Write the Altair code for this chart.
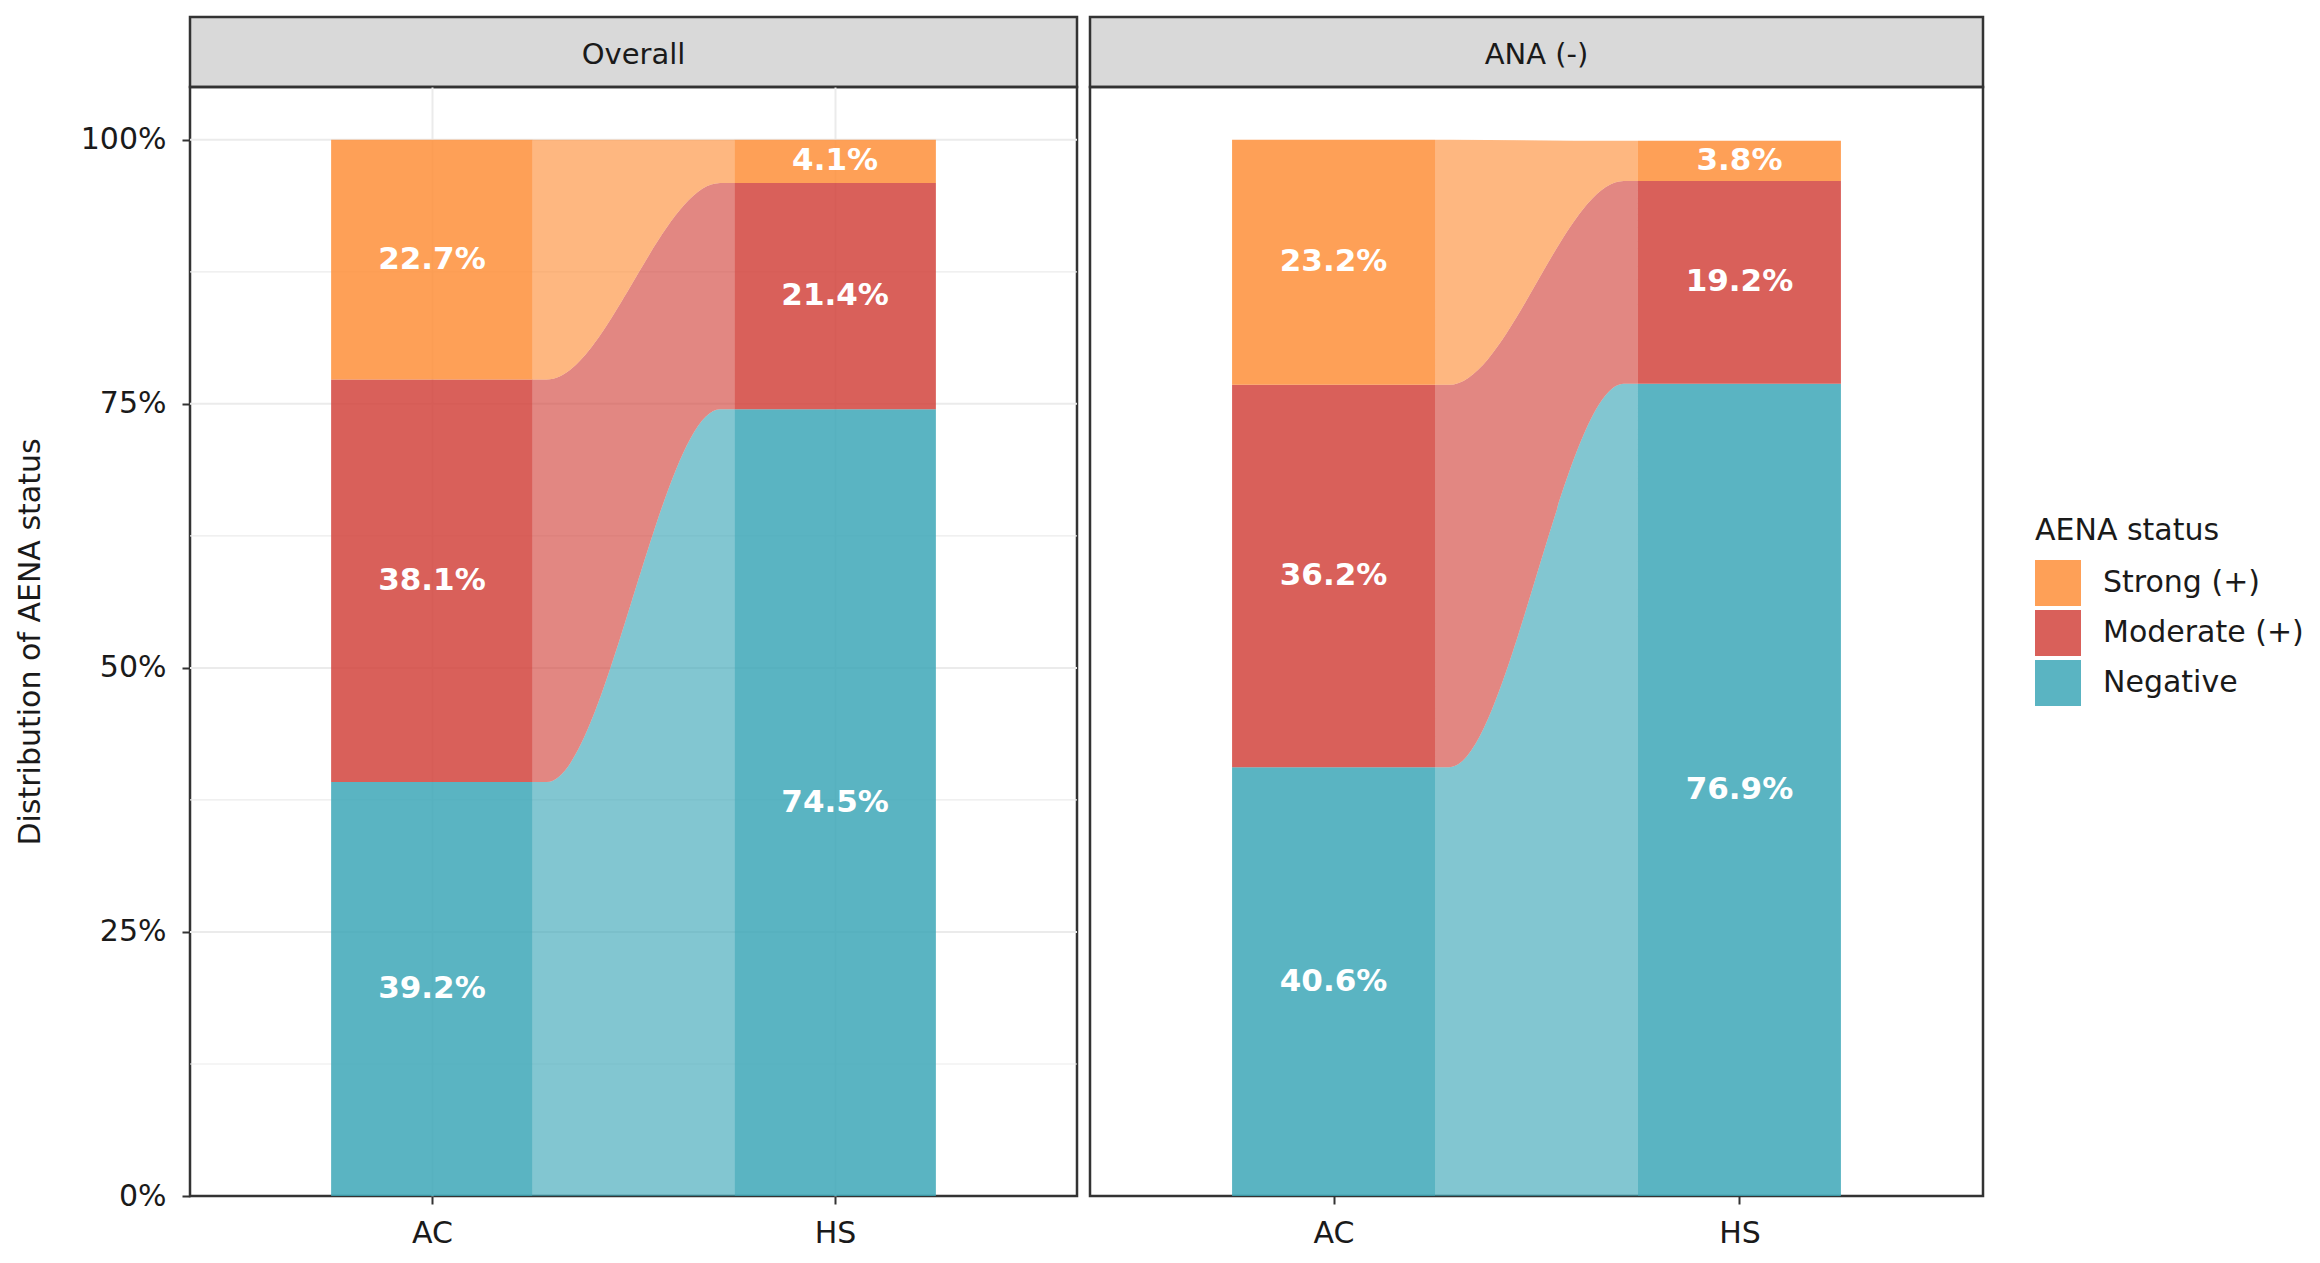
import json
import altair as alt
import pandas as pd

PANELS = ["Overall", "ANA (-)"]
GROUPS = ["AC", "HS"]
STATUS = ["Strong (+)", "Moderate (+)", "Negative"]          # legend order
STACK_ORDER = ["Negative", "Moderate (+)", "Strong (+)"]     # bottom -> top
COLORS = ["#FE8F3A", "#D2443D", "#3DA7B7"]

overall_negative = [39.2, 74.5]
overall_moderate = [38.1, 21.4]
overall_strong = [22.7, 4.1]

ana_negative = [40.6, 76.9]
ana_moderate = [36.2, 19.2]
ana_strong = [23.2, 3.8]

Y_TICKS = [0, 0.25, 0.5, 0.75, 1.0]
Y_MINOR = [0.125, 0.375, 0.625, 0.875]

BAR_HALF = 0.25
FLOW_KNOTS = [0.0, 0.07, 0.93, 1.0]

FONT = "DejaVu Sans"
TXT = "#1a1a1a"
FS = 30

LEGEND = alt.Legend(
    title="AENA status", orient="none", legendX=1845, legendY=499,
    titleFontSize=30, titleFontWeight="normal", titleColor=TXT, titlePadding=14,
    titleLimit=0, labelLimit=0,
    labelFontSize=30, labelColor=TXT, labelOffset=22,
    symbolType="square", symbolSize=2116, symbolStrokeWidth=0, symbolOpacity=0.85,
    rowPadding=4, padding=0,
)


def tables(neg, mod, strong):
    vals = {"Negative": neg, "Moderate (+)": mod, "Strong (+)": strong}
    bars = []
    for gi, g in enumerate(GROUPS):
        base = 0.0
        for s in STACK_ORDER:
            v = vals[s][gi] / 100.0
            xc = gi + 1
            bars.append(dict(group=g, status=s, x0=xc - BAR_HALF, x1=xc + BAR_HALF, xc=xc,
                             y0=base, y1=base + v, ymid=base + v / 2,
                             label=f"{vals[s][gi]:.1f}%"))
            base += v
    bars = pd.DataFrame(bars)
    flows = []
    for s in STACK_ORDER:
        a = bars[(bars.status == s) & (bars.group == GROUPS[0])].iloc[0]
        b = bars[(bars.status == s) & (bars.group == GROUPS[1])].iloc[0]
        for k in FLOW_KNOTS:
            src = a if k < 0.5 else b
            flows.append(dict(status=s, x=a.x1 + (b.x0 - a.x1) * k, y0=src.y0, y1=src.y1))
    return bars, pd.DataFrame(flows)


xscale = alt.Scale(domain=[0.4, 2.6], nice=False, zero=False)
yscale = alt.Scale(domain=[0, 1.05], nice=False, zero=False)
label_expr = f"{json.dumps(GROUPS)}[datum.value - 1]"


def panel(title, neg, mod, strong, width, first):
    bars, flows = tables(neg, mod, strong)
    xaxis = alt.Axis(values=[1, 2], labelExpr=label_expr, title=None, labelFontSize=FS,
                     labelColor=TXT, tickColor="#333", tickSize=8, tickWidth=2, domain=False,
                     labelPadding=14, grid=first, gridColor="#EBEBEB", gridWidth=2)
    if first:
        yaxis = alt.Axis(values=Y_TICKS, format=".0%", title="Distribution of AENA status",
                         titleFontSize=FS, titleFontWeight="normal", titleColor=TXT,
                         titlePadding=35, labelFontSize=FS, labelColor=TXT, tickColor="#333",
                         tickSize=8, tickWidth=2, domain=False, labelPadding=16, grid=False)
    else:
        yaxis = None
    color = alt.Color("status:N", scale=alt.Scale(domain=STATUS, range=COLORS), legend=LEGEND)

    layers = []
    if first:
        major = alt.Chart(pd.DataFrame({"y": Y_TICKS})).transform_filter("datum.y > 0").mark_rule(
            color="#EBEBEB", strokeWidth=2).encode(y=alt.Y("y:Q", scale=yscale, axis=yaxis))
        minor = alt.Chart(pd.DataFrame({"y": Y_MINOR})).mark_rule(
            color="#EBEBEB", strokeWidth=1.2).encode(y=alt.Y("y:Q", scale=yscale, axis=yaxis))
        layers += [major, minor]
    flow = alt.Chart(flows).mark_area(interpolate="monotone", opacity=0.645).encode(
        x=alt.X("x:Q", scale=xscale, axis=xaxis),
        y=alt.Y("y0:Q", scale=yscale, axis=yaxis),
        y2="y1:Q",
        color=color,
        detail="status:N",
    )
    bar = alt.Chart(bars).mark_rect(opacity=0.85).encode(
        x=alt.X("x0:Q", scale=xscale, axis=xaxis),
        x2="x1:Q",
        y=alt.Y("y0:Q", scale=yscale, axis=yaxis),
        y2="y1:Q",
        color=color,
    )
    txt = alt.Chart(bars).mark_text(font=FONT, fontSize=31, fontWeight="bold", color="white",
                                    baseline="middle").encode(
        x=alt.X("xc:Q", scale=xscale, axis=xaxis),
        y=alt.Y("ymid:Q", scale=yscale, axis=yaxis),
        text="label:N",
    )
    layers += [flow, bar, txt]
    plot = alt.layer(*layers).properties(width=width, height=1109)

    strip = alt.Chart(pd.DataFrame({"panel": [title]})).mark_text(
        font=FONT, fontSize=29, color=TXT, baseline="alphabetic", align="center").encode(
        x=alt.value(width / 2), y=alt.value(47), text="panel:N"
    ).properties(width=width, height=70,
                 view=alt.ViewBackground(fill="#D9D9D9", stroke="#333", strokeWidth=2.5))
    return alt.vconcat(strip, plot, spacing=0, bounds="flush")


left = panel(PANELS[0], overall_negative, overall_moderate, overall_strong, 887, True)
right = panel(PANELS[1], ana_negative, ana_moderate, ana_strong, 893, False)

chart = alt.hconcat(left, right, spacing=8).resolve_scale(color="shared").properties(
    padding={"left": 5, "top": 7, "right": 5, "bottom": 5}
).configure(font=FONT).configure_view(stroke="#333", strokeWidth=2.5)

chart.save("out.html", embed_options={"renderer": "svg", "actions": False})
